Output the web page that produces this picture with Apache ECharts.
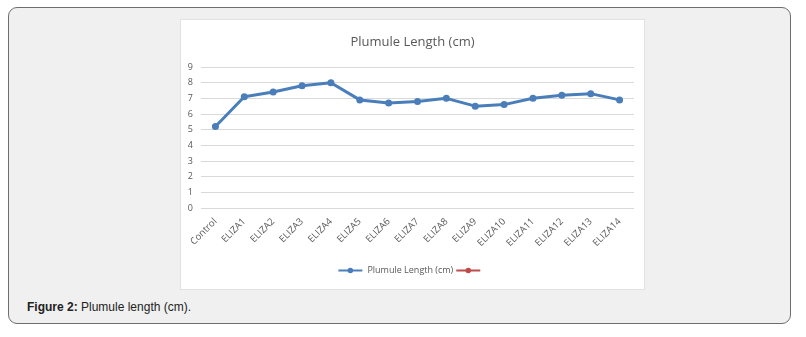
<!DOCTYPE html>
<html><head><meta charset="utf-8">
<script src="https://cdn.jsdelivr.net/npm/echarts@6/dist/echarts.min.js"></script>
<style>
html,body{margin:0;padding:0;background:#fff;width:806px;height:337px;overflow:hidden;}
#frame{position:absolute;left:8px;top:7px;width:781px;height:315px;background:#f0f0f0;border:1px solid #6e6e6e;border-radius:9px;}
#chart{position:absolute;left:180px;top:19px;width:463px;height:269px;background:#fff;border:1px solid #e2e2e2;}
#cap{position:absolute;left:27px;top:300px;font-family:"Liberation Sans",Arial,sans-serif;font-size:12px;color:#222;}
</style></head>
<body>
<div id="frame"></div>
<div id="chart"></div>
<div id="cap"><b>Figure 2:</b> Plumule length (cm).</div>
<script>
const categories = ["Control","ELIZA1","ELIZA2","ELIZA3","ELIZA4","ELIZA5","ELIZA6","ELIZA7","ELIZA8","ELIZA9","ELIZA10","ELIZA11","ELIZA12","ELIZA13","ELIZA14"];
const plumule = [5.2,7.1,7.4,7.8,8.0,6.9,6.7,6.8,7.0,6.5,6.6,7.0,7.2,7.3,6.9];
const yTicks = [0,9,1];
const titleText = "Plumule Length (cm)";
const seriesName = "Plumule Length (cm)";

const chart = echarts.init(document.getElementById('chart'));
const fontFam = '"Open Sans", "Noto Sans", sans-serif';
chart.setOption({
  animation:false,
  title:{text:titleText,left:'center',top:11,textStyle:{fontFamily:fontFam,fontSize:13,fontWeight:'normal',color:'#595959'}},
  grid:{left:20,right:10,top:47,bottom:81,containLabel:false},
  legend:{bottom:9,left:'center',itemWidth:24,itemHeight:7,itemGap:2,
    textStyle:{fontFamily:fontFam,fontSize:9,color:'#595959'},
    data:[seriesName,' ']},
  xAxis:{type:'category',data:categories,boundaryGap:true,
    axisLine:{show:false},axisTick:{show:false},
    axisLabel:{rotate:45,interval:0,fontFamily:fontFam,fontSize:9.5,color:'#595959',margin:12}},
  yAxis:{type:'value',min:yTicks[0],max:yTicks[1],interval:yTicks[2],
    axisLine:{show:false},axisTick:{show:false},
    splitLine:{lineStyle:{color:'#d9d9d9',width:1}},
    axisLabel:{fontFamily:fontFam,fontSize:9,color:'#595959',margin:8}},
  series:[
    {name:seriesName,type:'line',data:plumule,color:'#4a7ebb',symbol:'circle',symbolSize:7,
     lineStyle:{width:3,color:'#4a7ebb'},itemStyle:{color:'#4a7ebb'}},
    {name:' ',type:'line',data:[],color:'#be4b48',symbol:'circle',symbolSize:7,
     lineStyle:{width:3,color:'#be4b48'},itemStyle:{color:'#be4b48'}}
  ]
});
</script>
</body></html>
